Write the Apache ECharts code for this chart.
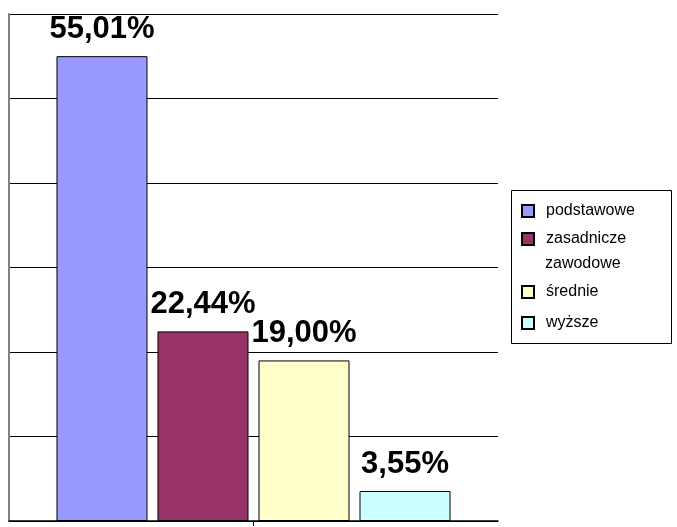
<!DOCTYPE html>
<html>
<head>
<meta charset="utf-8">
<script src="https://cdn.jsdelivr.net/npm/echarts@6/dist/echarts.min.js"></script>
<style>html,body{margin:0;padding:0;background:#fff}#c{width:677px;height:527px}</style>
</head>
<body>
<div id="c"></div>
<script>
var categories = [''];
var seriesNames = ['podstawowe', 'zasadnicze zawodowe', 'średnie', 'wyższe'];
var seriesValues = [55.01, 22.44, 19.00, 3.55];
var seriesColors = ['#9999FF', '#993366', '#FFFFCC', '#CCFFFF'];
var yTicks = [0, 10, 20, 30, 40, 50, 60];

var chart = echarts.init(document.getElementById('c'));
var series = seriesNames.map(function (n, i) {
  return {
    name: n,
    type: 'bar',
    data: [seriesValues[i]],
    barWidth: 91,
    barGap: '11%',
    itemStyle: { color: seriesColors[i], borderColor: '#000', borderWidth: 1 },
    label: {
      show: true,
      position: 'top',
      distance: 11,
      fontFamily: 'Liberation Sans, Arial, sans-serif',
      fontWeight: 'bold',
      fontSize: 31,
      color: '#000',
      formatter: function (p) { return p.value.toFixed(2).replace('.', ',') + '%'; }
    }
  };
});
var legendText = { fontFamily: 'Liberation Sans, Arial, sans-serif', fontSize: 16, color: '#000', padding: [0, 0, 0, 7] };
chart.setOption({
  animation: false,
  backgroundColor: '#fff',
  grid: { left: 9, right: 179, top: 14, bottom: 6 },
  xAxis: {
    type: 'category',
    data: categories,
    axisLine: { show: true, lineStyle: { color: '#000', width: 1.5 } },
    axisTick: { show: true, alignWithLabel: true, length: 5, lineStyle: { color: '#000' } },
    axisLabel: { show: false }
  },
  yAxis: {
    type: 'value',
    min: yTicks[0],
    max: yTicks[yTicks.length - 1],
    interval: yTicks[1] - yTicks[0],
    axisLine: { show: true, lineStyle: { color: '#808080', width: 2 } },
    axisTick: { show: false },
    axisLabel: { show: false },
    splitLine: { show: true, lineStyle: { color: '#000', width: 1 } }
  },
  legend: [
    {
      data: seriesNames.slice(0, 2),
      orient: 'vertical',
      left: 521, top: 203,
      padding: 0,
      itemWidth: 12, itemHeight: 12, itemGap: 12,
      icon: 'rect',
      textStyle: legendText,
      formatter: function (n) { return n === 'zasadnicze zawodowe' ? 'zasadnicze' : n; }
    },
    {
      data: seriesNames.slice(2),
      orient: 'vertical',
      left: 521, top: 284,
      padding: 0,
      itemWidth: 12, itemHeight: 12, itemGap: 15,
      icon: 'rect',
      textStyle: legendText
    }
  ],
  graphic: [
    { type: 'rect', shape: { x: 511.5, y: 190.5, width: 160, height: 153 }, style: { fill: 'none', stroke: '#000', lineWidth: 1 }, z: 0 },
    { type: 'text', x: 545, y: 264, style: { text: 'zawodowe', font: '16px "Liberation Sans", Arial, sans-serif', fill: '#000', verticalAlign: 'middle' } }
  ],
  series: series
});
</script>
</body>
</html>
